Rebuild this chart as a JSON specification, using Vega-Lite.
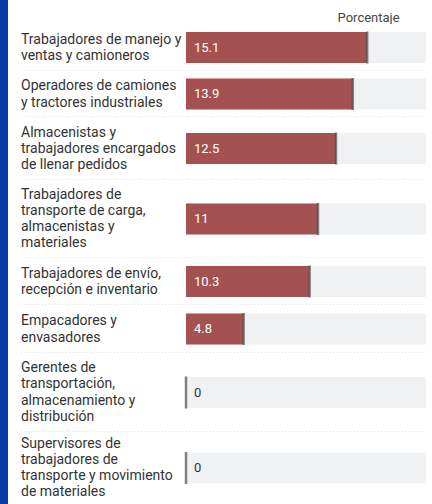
{
  "$schema": "https://vega.github.io/schema/vega-lite/v6.json",
  "background": "#0b3aa8",
  "padding": {"left": 8, "top": 0, "right": 0, "bottom": 0},
  "spacing": 0,
  "bounds": "flush",
  "config": {"view": {"fill": "white", "stroke": null}, "concat": {"spacing": 0}},
  "datasets": {
    "rows": [
      {"id": 1, "lines": ["Trabajadores de manejo y", "ventas y camioneros"], "value": 15.1},
      {"id": 2, "lines": ["Operadores de camiones", "y tractores industriales"], "value": 13.9},
      {"id": 3, "lines": ["Almacenistas y", "trabajadores encargados", "de llenar pedidos"], "value": 12.5},
      {"id": 4, "lines": ["Trabajadores de", "transporte de carga,", "almacenistas y", "materiales"], "value": 11},
      {"id": 5, "lines": ["Trabajadores de envío,", "recepción e inventario"], "value": 10.3},
      {"id": 6, "lines": ["Empacadores y", "envasadores"], "value": 4.8},
      {"id": 7, "lines": ["Gerentes de", "transportación,", "almacenamiento y", "distribución"], "value": 0},
      {"id": 8, "lines": ["Supervisores de", "trabajadores de", "transporte y movimiento", "de materiales"], "value": 0}
    ]
  },
  "vconcat": [
    {
      "height": 24, "width": 424,
      "data": {"values": [{"t": "Porcentaje"}]},
      "mark": {"type": "text", "align": "right", "baseline": "alphabetic", "dy": 10, "fontSize": 13, "font": "Roboto", "color": "#444444"},
      "encoding": {
        "x": {"datum": 17.8, "type": "quantitative", "scale": {"domain": [-14.833, 20.5], "nice": false, "zero": false}, "axis": null},
        "text": {"field": "t"}
      }
    },
    {
      "height": 47, "width": 424,
      "data": {"name": "rows"},
      "transform": [{"filter": "datum.id == 1"}],
      "encoding": {"y": {"field": "id", "type": "nominal", "axis": null, "scale": {"paddingInner": 0, "paddingOuter": 0}}},
      "layer": [
        {"mark": {"type": "bar", "height": 31, "color": "#f0f1f3"}, "encoding": {"x": {"datum": 0, "type": "quantitative", "scale": {"domain": [-14.833, 20.5], "nice": false, "zero": false}, "axis": null}, "x2": {"datum": 20}}},
        {"mark": {"type": "bar", "height": 31, "color": "#a65151"}, "encoding": {"x": {"field": "value", "type": "quantitative"}, "x2": {"datum": 0}}},
        {"mark": {"type": "tick", "thickness": 2.5, "size": 32, "color": "#4d4d4d"}, "encoding": {"x": {"field": "value", "type": "quantitative"}}},
        {"mark": {"type": "text", "align": "left", "dx": 8, "fontSize": 13, "font": "Roboto"}, "encoding": {"x": {"datum": 0}, "text": {"field": "value", "type": "quantitative"}, "color": {"condition": {"test": "datum.value > 0", "value": "white"}, "value": "#333333"}}},
        {"mark": {"type": "text", "align": "left", "baseline": "middle", "dy": -8, "lineHeight": 16.5, "fontSize": 14, "font": "Roboto", "color": "#333333"}, "encoding": {"x": {"datum": -13.75}, "text": {"field": "lines"}}},
        {"mark": {"type": "rule", "strokeDash": [1, 2], "color": "#c4c4c4"}, "encoding": {"x": {"datum": -13.75}, "x2": {"datum": 20}, "y": {"field": "id", "type": "nominal", "bandPosition": 1}}}
      ]
    },
    {
      "height": 46, "width": 424,
      "data": {"name": "rows"},
      "transform": [{"filter": "datum.id == 2"}],
      "encoding": {"y": {"field": "id", "type": "nominal", "axis": null, "scale": {"paddingInner": 0, "paddingOuter": 0}}},
      "layer": [
        {"mark": {"type": "bar", "height": 31, "color": "#f0f1f3"}, "encoding": {"x": {"datum": 0, "type": "quantitative", "scale": {"domain": [-14.833, 20.5], "nice": false, "zero": false}, "axis": null}, "x2": {"datum": 20}}},
        {"mark": {"type": "bar", "height": 31, "color": "#a65151"}, "encoding": {"x": {"field": "value", "type": "quantitative"}, "x2": {"datum": 0}}},
        {"mark": {"type": "tick", "thickness": 2.5, "size": 32, "color": "#4d4d4d"}, "encoding": {"x": {"field": "value", "type": "quantitative"}}},
        {"mark": {"type": "text", "align": "left", "dx": 8, "fontSize": 13, "font": "Roboto"}, "encoding": {"x": {"datum": 0}, "text": {"field": "value", "type": "quantitative"}, "color": {"condition": {"test": "datum.value > 0", "value": "white"}, "value": "#333333"}}},
        {"mark": {"type": "text", "align": "left", "baseline": "middle", "dy": -8, "lineHeight": 16.5, "fontSize": 14, "font": "Roboto", "color": "#333333"}, "encoding": {"x": {"datum": -13.75}, "text": {"field": "lines"}}},
        {"mark": {"type": "rule", "strokeDash": [1, 2], "color": "#c4c4c4"}, "encoding": {"x": {"datum": -13.75}, "x2": {"datum": 20}, "y": {"field": "id", "type": "nominal", "bandPosition": 1}}}
      ]
    },
    {
      "height": 63, "width": 424,
      "data": {"name": "rows"},
      "transform": [{"filter": "datum.id == 3"}],
      "encoding": {"y": {"field": "id", "type": "nominal", "axis": null, "scale": {"paddingInner": 0, "paddingOuter": 0}}},
      "layer": [
        {"mark": {"type": "bar", "height": 31, "color": "#f0f1f3"}, "encoding": {"x": {"datum": 0, "type": "quantitative", "scale": {"domain": [-14.833, 20.5], "nice": false, "zero": false}, "axis": null}, "x2": {"datum": 20}}},
        {"mark": {"type": "bar", "height": 31, "color": "#a65151"}, "encoding": {"x": {"field": "value", "type": "quantitative"}, "x2": {"datum": 0}}},
        {"mark": {"type": "tick", "thickness": 2.5, "size": 32, "color": "#4d4d4d"}, "encoding": {"x": {"field": "value", "type": "quantitative"}}},
        {"mark": {"type": "text", "align": "left", "dx": 8, "fontSize": 13, "font": "Roboto"}, "encoding": {"x": {"datum": 0}, "text": {"field": "value", "type": "quantitative"}, "color": {"condition": {"test": "datum.value > 0", "value": "white"}, "value": "#333333"}}},
        {"mark": {"type": "text", "align": "left", "baseline": "middle", "dy": -16, "lineHeight": 16, "fontSize": 14, "font": "Roboto", "color": "#333333"}, "encoding": {"x": {"datum": -13.75}, "text": {"field": "lines"}}},
        {"mark": {"type": "rule", "strokeDash": [1, 2], "color": "#c4c4c4"}, "encoding": {"x": {"datum": -13.75}, "x2": {"datum": 20}, "y": {"field": "id", "type": "nominal", "bandPosition": 1}}}
      ]
    },
    {
      "height": 78, "width": 424,
      "data": {"name": "rows"},
      "transform": [{"filter": "datum.id == 4"}],
      "encoding": {"y": {"field": "id", "type": "nominal", "axis": null, "scale": {"paddingInner": 0, "paddingOuter": 0}}},
      "layer": [
        {"mark": {"type": "bar", "height": 31, "color": "#f0f1f3"}, "encoding": {"x": {"datum": 0, "type": "quantitative", "scale": {"domain": [-14.833, 20.5], "nice": false, "zero": false}, "axis": null}, "x2": {"datum": 20}}},
        {"mark": {"type": "bar", "height": 31, "color": "#a65151"}, "encoding": {"x": {"field": "value", "type": "quantitative"}, "x2": {"datum": 0}}},
        {"mark": {"type": "tick", "thickness": 2.5, "size": 32, "color": "#4d4d4d"}, "encoding": {"x": {"field": "value", "type": "quantitative"}}},
        {"mark": {"type": "text", "align": "left", "dx": 8, "fontSize": 13, "font": "Roboto"}, "encoding": {"x": {"datum": 0}, "text": {"field": "value", "type": "quantitative"}, "color": {"condition": {"test": "datum.value > 0", "value": "white"}, "value": "#333333"}}},
        {"mark": {"type": "text", "align": "left", "baseline": "middle", "dy": -24.5, "lineHeight": 16.3, "fontSize": 14, "font": "Roboto", "color": "#333333"}, "encoding": {"x": {"datum": -13.75}, "text": {"field": "lines"}}},
        {"mark": {"type": "rule", "strokeDash": [1, 2], "color": "#c4c4c4"}, "encoding": {"x": {"datum": -13.75}, "x2": {"datum": 20}, "y": {"field": "id", "type": "nominal", "bandPosition": 1}}}
      ]
    },
    {
      "height": 47, "width": 424,
      "data": {"name": "rows"},
      "transform": [{"filter": "datum.id == 5"}],
      "encoding": {"y": {"field": "id", "type": "nominal", "axis": null, "scale": {"paddingInner": 0, "paddingOuter": 0}}},
      "layer": [
        {"mark": {"type": "bar", "height": 31, "color": "#f0f1f3"}, "encoding": {"x": {"datum": 0, "type": "quantitative", "scale": {"domain": [-14.833, 20.5], "nice": false, "zero": false}, "axis": null}, "x2": {"datum": 20}}},
        {"mark": {"type": "bar", "height": 31, "color": "#a65151"}, "encoding": {"x": {"field": "value", "type": "quantitative"}, "x2": {"datum": 0}}},
        {"mark": {"type": "tick", "thickness": 2.5, "size": 32, "color": "#4d4d4d"}, "encoding": {"x": {"field": "value", "type": "quantitative"}}},
        {"mark": {"type": "text", "align": "left", "dx": 8, "fontSize": 13, "font": "Roboto"}, "encoding": {"x": {"datum": 0}, "text": {"field": "value", "type": "quantitative"}, "color": {"condition": {"test": "datum.value > 0", "value": "white"}, "value": "#333333"}}},
        {"mark": {"type": "text", "align": "left", "baseline": "middle", "dy": -8, "lineHeight": 16.5, "fontSize": 14, "font": "Roboto", "color": "#333333"}, "encoding": {"x": {"datum": -13.75}, "text": {"field": "lines"}}},
        {"mark": {"type": "rule", "strokeDash": [1, 2], "color": "#c4c4c4"}, "encoding": {"x": {"datum": -13.75}, "x2": {"datum": 20}, "y": {"field": "id", "type": "nominal", "bandPosition": 1}}}
      ]
    },
    {
      "height": 48, "width": 424,
      "data": {"name": "rows"},
      "transform": [{"filter": "datum.id == 6"}],
      "encoding": {"y": {"field": "id", "type": "nominal", "axis": null, "scale": {"paddingInner": 0, "paddingOuter": 0}}},
      "layer": [
        {"mark": {"type": "bar", "height": 31, "color": "#f0f1f3"}, "encoding": {"x": {"datum": 0, "type": "quantitative", "scale": {"domain": [-14.833, 20.5], "nice": false, "zero": false}, "axis": null}, "x2": {"datum": 20}}},
        {"mark": {"type": "bar", "height": 31, "color": "#a65151"}, "encoding": {"x": {"field": "value", "type": "quantitative"}, "x2": {"datum": 0}}},
        {"mark": {"type": "tick", "thickness": 2.5, "size": 32, "color": "#4d4d4d"}, "encoding": {"x": {"field": "value", "type": "quantitative"}}},
        {"mark": {"type": "text", "align": "left", "dx": 8, "fontSize": 13, "font": "Roboto"}, "encoding": {"x": {"datum": 0}, "text": {"field": "value", "type": "quantitative"}, "color": {"condition": {"test": "datum.value > 0", "value": "white"}, "value": "#333333"}}},
        {"mark": {"type": "text", "align": "left", "baseline": "middle", "dy": -8, "lineHeight": 16.5, "fontSize": 14, "font": "Roboto", "color": "#333333"}, "encoding": {"x": {"datum": -13.75}, "text": {"field": "lines"}}},
        {"mark": {"type": "rule", "strokeDash": [1, 2], "color": "#c4c4c4"}, "encoding": {"x": {"datum": -13.75}, "x2": {"datum": 20}, "y": {"field": "id", "type": "nominal", "bandPosition": 1}}}
      ]
    },
    {
      "height": 79, "width": 424,
      "data": {"name": "rows"},
      "transform": [{"filter": "datum.id == 7"}],
      "encoding": {"y": {"field": "id", "type": "nominal", "axis": null, "scale": {"paddingInner": 0, "paddingOuter": 0}}},
      "layer": [
        {"mark": {"type": "bar", "height": 31, "color": "#f0f1f3"}, "encoding": {"x": {"datum": 0, "type": "quantitative", "scale": {"domain": [-14.833, 20.5], "nice": false, "zero": false}, "axis": null}, "x2": {"datum": 20}}},
        {"mark": {"type": "bar", "height": 31, "color": "#a65151"}, "encoding": {"x": {"field": "value", "type": "quantitative"}, "x2": {"datum": 0}}},
        {"mark": {"type": "tick", "thickness": 2.5, "size": 32, "color": "#4d4d4d"}, "encoding": {"x": {"field": "value", "type": "quantitative"}}},
        {"mark": {"type": "text", "align": "left", "dx": 8, "fontSize": 13, "font": "Roboto"}, "encoding": {"x": {"datum": 0}, "text": {"field": "value", "type": "quantitative"}, "color": {"condition": {"test": "datum.value > 0", "value": "white"}, "value": "#333333"}}},
        {"mark": {"type": "text", "align": "left", "baseline": "middle", "dy": -24.5, "lineHeight": 16.3, "fontSize": 14, "font": "Roboto", "color": "#333333"}, "encoding": {"x": {"datum": -13.75}, "text": {"field": "lines"}}},
        {"mark": {"type": "rule", "strokeDash": [1, 2], "color": "#c4c4c4"}, "encoding": {"x": {"datum": -13.75}, "x2": {"datum": 20}, "y": {"field": "id", "type": "nominal", "bandPosition": 1}}}
      ]
    },
    {
      "height": 72, "width": 424,
      "data": {"name": "rows"},
      "transform": [{"filter": "datum.id == 8"}],
      "encoding": {"y": {"field": "id", "type": "nominal", "axis": null, "scale": {"paddingInner": 0, "paddingOuter": 0}}},
      "layer": [
        {"mark": {"type": "bar", "height": 31, "color": "#f0f1f3"}, "encoding": {"x": {"datum": 0, "type": "quantitative", "scale": {"domain": [-14.833, 20.5], "nice": false, "zero": false}, "axis": null}, "x2": {"datum": 20}}},
        {"mark": {"type": "bar", "height": 31, "color": "#a65151"}, "encoding": {"x": {"field": "value", "type": "quantitative"}, "x2": {"datum": 0}}},
        {"mark": {"type": "tick", "thickness": 2.5, "size": 32, "color": "#4d4d4d"}, "encoding": {"x": {"field": "value", "type": "quantitative"}}},
        {"mark": {"type": "text", "align": "left", "dx": 8, "fontSize": 13, "font": "Roboto"}, "encoding": {"x": {"datum": 0}, "text": {"field": "value", "type": "quantitative"}, "color": {"condition": {"test": "datum.value > 0", "value": "white"}, "value": "#333333"}}},
        {"mark": {"type": "text", "align": "left", "baseline": "middle", "dy": -24.5, "lineHeight": 16.3, "fontSize": 14, "font": "Roboto", "color": "#333333"}, "encoding": {"x": {"datum": -13.75}, "text": {"field": "lines"}}}
      ]
    }
  ]
}
